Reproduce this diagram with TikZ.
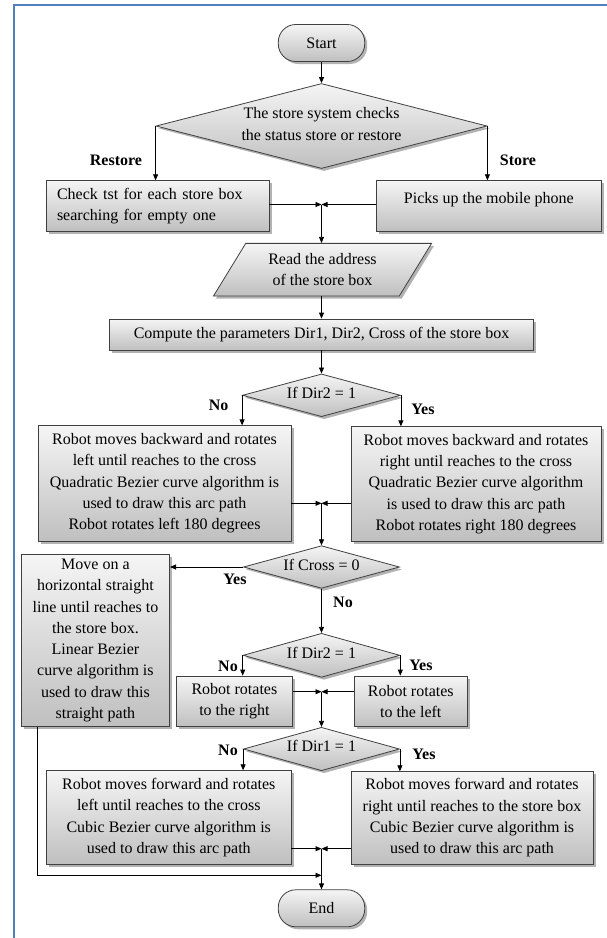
\documentclass[tikz,border=0pt]{standalone}
\usepackage{fontspec}
\setmainfont{Liberation Serif}
\usetikzlibrary{shapes.geometric,shadows,arrows.meta}
\definecolor{frameblue}{RGB}{79,129,189}
\newcommand{\boxfont}{\fontsize{16}{21.3}\selectfont}
\begin{document}
\begin{tikzpicture}[x=1pt,y=-1pt,
  shadedfill/.style={top color=gray!8, bottom color=gray!50},
  box/.style={draw=black!75, line width=0.8pt, shadedfill,
    drop shadow={shadow xshift=2.5pt, shadow yshift=-2.5pt, opacity=0.3, fill=black},
    inner sep=0pt, align=center, font=\boxfont},
  term/.style={box, rounded corners=17.5pt, minimum width=86.4pt, minimum height=37pt},
  dec/.style={box, diamond},
  dtxt/.style={font=\boxfont, align=center, inner sep=0pt},
  lab/.style={font=\boxfont\bfseries, inner sep=0pt},
  conn/.style={line width=0.8pt, -{Triangle[length=6pt,width=5pt]}},
  plainline/.style={line width=0.8pt}]
\useasboundingbox (0,0) rectangle (607,938);
\draw[frameblue, line width=2pt] (14.3,938) -- (14.3,4.7) -- (607,4.7);

% nodes
\node[term] (start) at (321.5,43) {Start};
\node[dec, minimum width=331pt, minimum height=85pt] (d1) at (321.5,126) {};
\node[dtxt] (d1t) at (321.5,124) {The store system checks\\the status store or restore};
\node[box, text width=201.5pt, inner xsep=10.5pt, minimum height=50.3pt, align=left] (b1) at (157.75,205.85)
  {Check tst for each store box\\searching for empty one};
\node[box, minimum width=224.3pt, minimum height=50.3pt, text height=11pt, text depth=16pt] (b2) at (488.85,205.85) {Picks up the mobile phone};
\coordinate (m1) at (321.5,204.5);
\node[box, trapezium, trapezium left angle=55, trapezium right angle=125, trapezium stretches=true,
  minimum width=218.4pt, minimum height=52.7pt] (read) at (322.5,269.7) {Read the address\\of the store box};
\node[box, minimum width=424.7pt, minimum height=31pt] (comp) at (321.5,334.5)
  {Compute the parameters Dir1, Dir2, Cross of the store box};
\node[dec, minimum width=158pt, minimum height=42.7pt] (d2) at (321.5,395.3) {};
\node[dtxt] (d2t) at (321.5,392.5) {If Dir2 = 1};
\node[box, minimum width=253pt, minimum height=115.3pt] (l2) at (164.5,483.4)
  {Robot moves backward and rotates\\left until reaches to the cross\\Quadratic Bezier curve algorithm is\\used to draw this arc path\\Robot rotates left 180 degrees};
\node[box, minimum width=250pt, minimum height=114.3pt] (r2) at (476,483.9)
  {Robot moves backward and rotates\\right until reaches to the cross\\Quadratic Bezier curve algorithm\\is used to draw this arc path\\Robot rotates right 180 degrees};
\coordinate (m2) at (321.5,503.3);
\node[dec, minimum width=156pt, minimum height=42.6pt] (d3) at (321.5,567) {};
\node[dtxt] (d3t) at (321.5,564.5) {If Cross = 0};
\node[box, minimum width=148.3pt, minimum height=172.4pt] (mv) at (95.45,640.5)
  {Move on a\\horizontal straight\\line until reaches to\\the store box.\\Linear Bezier\\curve algorithm is\\used to draw this\\straight path};
\node[dec, minimum width=156.8pt, minimum height=44pt] (d4) at (321.5,655.3) {};
\node[dtxt] (d4t) at (321.5,652.7) {If Dir2 = 1};
\node[box, minimum width=115.8pt, minimum height=50.7pt] (rr) at (234.4,701.35) {Robot rotates\\to the right};
\node[box, minimum width=113.1pt, minimum height=50.7pt] (rl) at (410.75,701.35) {Robot rotates\\to the left};
\coordinate (m4) at (321.5,691.7);
\node[dec, minimum width=156pt, minimum height=43.4pt] (d5) at (321.5,749) {};
\node[dtxt] (d5t) at (321.5,746.3) {If Dir1 = 1};
\node[box, minimum width=244.5pt, minimum height=93.6pt] (l5) at (168.75,817.5)
  {Robot moves forward and rotates\\left until reaches to the cross\\Cubic Bezier curve algorithm is\\used to draw this arc path};
\node[box, minimum width=242pt, minimum height=92.6pt] (r5) at (472,818)
  {Robot moves forward and rotates\\right until reaches to the store box\\Cubic Bezier curve algorithm is\\used to draw this arc path};
\coordinate (m5) at (321.5,848.7);
\coordinate (mvc) at (37.2,875.3);
\coordinate (m6) at (321.5,875.3);
\node[term] (end) at (321.5,908.3) {End};

% labels
\node[lab] (lrestore) at (116,160.7) {Restore};
\node[lab] (lstore) at (518,160.3) {Store};
\node[lab] (no2) at (218.6,405) {No};
\node[lab] (yes2) at (423,409) {Yes};
\node[lab] (yes3) at (235,579.3) {Yes};
\node[lab] (no3) at (343,602.7) {No};
\node[lab] (no4) at (228,666) {No};
\node[lab] (yes4) at (421,665.3) {Yes};
\node[lab] (no5) at (228,750.7) {No};
\node[lab] (yes5) at (424,754.3) {Yes};

% connectors
\draw[conn] (start) -- (d1);
\draw[conn] (d1.west) -- (d1.west |- b1.north);
\draw[conn] (d1.east) -- (d1.east |- b2.north);
\draw[conn] (b1.east |- m1) -- (m1);
\draw[conn] (b2.west |- m1) -- (m1);
\draw[conn] (m1) -- (m1 |- read.north);
\draw[conn] (read.south -| comp.north) -- (comp.north);
\draw[conn] (comp) -- (d2);
\draw[conn] (d2.west) -- (d2.west |- l2.north);
\draw[conn] (d2.east) -- (d2.east |- r2.north);
\draw[conn] (l2.east |- m2) -- (m2);
\draw[conn] (r2.west |- m2) -- (m2);
\draw[conn] (m2) -- (d3.north);
\draw[conn] (d3.west) -- (d3.west -| mv.east);
\draw[conn] (d3) -- (d4);
\draw[conn] (d4.west) -- (d4.west |- rr.north);
\draw[conn] (d4.east) -- (d4.east |- rl.north);
\draw[conn] (rr.east |- m4) -- (m4);
\draw[conn] (rl.west |- m4) -- (m4);
\draw[conn] (m4) -- (d5.north);
\draw[conn] (d5.west) -- (d5.west |- l5.north);
\draw[conn] (d5.east) -- (d5.east |- r5.north);
\draw[conn] (l5.east |- m5) -- (m5);
\draw[conn] (r5.west |- m5) -- (m5);
\draw[conn] (m5) -- (end.north);
\draw[conn] (mv.south -| mvc) -- (mvc) -- (m6);
\end{tikzpicture}
\end{document}
